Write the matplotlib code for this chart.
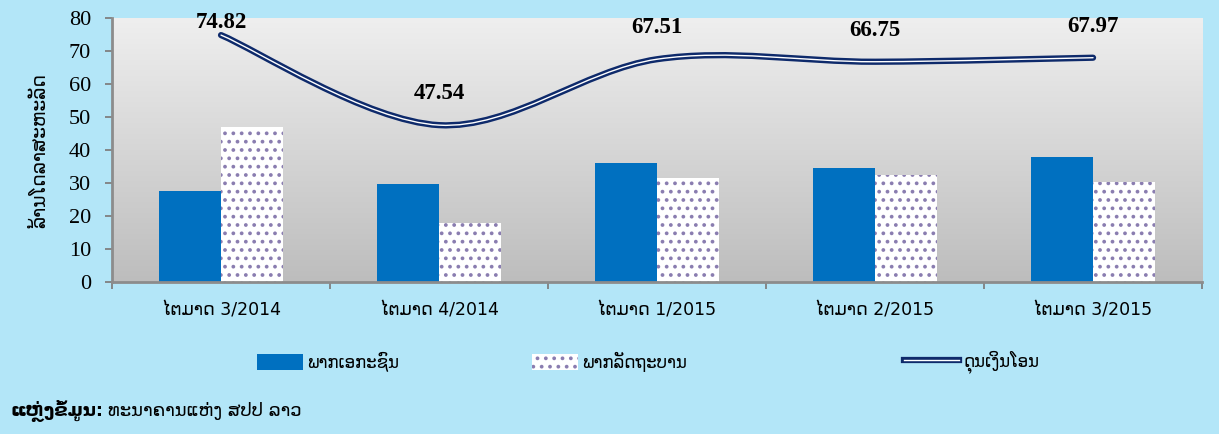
import numpy as np
import matplotlib
matplotlib.use("Agg")
import matplotlib.pyplot as plt
from matplotlib.path import Path
from matplotlib.patches import PathPatch, Patch
from matplotlib.lines import Line2D
from matplotlib.colors import LinearSegmentedColormap
import matplotlib.patheffects as pe

# Data
quarters = ["ໄຕມາດ 3/2014", "ໄຕມາດ 4/2014", "ໄຕມາດ 1/2015", "ໄຕມາດ 2/2015", "ໄຕມາດ 3/2015"]
private = [27.7, 29.8, 36.0, 34.4, 37.8]
government = [47.12, 17.74, 31.51, 32.35, 30.17]
balance = [74.82, 47.54, 67.51, 66.75, 67.97]

series_names = ["ພາກເອກະຊົນ", "ພາກລັດຖະບານ", "ດຸນເງິນໂອນ"]
ylabel = "ລ້ານໂດລາສະຫະລັດ"

bg = "#B3E6F8"
blue = "#0070C0"
navy = "#0E2A6B"
dots = "#8A7DB0"
lao = ["DejaVu Sans"]
serif = ["Liberation Serif", "DejaVu Serif"]

plt.rcParams["hatch.color"] = dots
plt.rcParams["hatch.linewidth"] = 1.5

fig = plt.figure(figsize=(12.19, 4.34), dpi=100, facecolor=bg)
ax = fig.add_axes([0.0919, 0.3502, 0.8942, 0.6083])
ax.set_facecolor("#D6D6D6")

# gradient plot area
grad = LinearSegmentedColormap.from_list("g", ["#BDBDBD", "#EFEFEF"])
ax.imshow(np.linspace(0, 1, 256).reshape(-1, 1), extent=[-0.5, 4.5, 0, 80],
          origin="lower", aspect="auto", cmap=grad, zorder=0)

x = np.arange(len(quarters))
w = 0.285
ax.bar(x - w / 2, private, w, color=blue, zorder=2)
ax.bar(x + w / 2, government, w, color="white", hatch="..", edgecolor=dots,
       linewidth=0, zorder=2)

# smoothed line (bezier through the points)
pts = np.column_stack([x, balance]).astype(float)
ext = np.vstack([pts[0], pts, pts[-1]])
verts = [tuple(pts[0])]
codes = [Path.MOVETO]
for i in range(len(pts) - 1):
    p0, p1, p2, p3 = ext[i], ext[i + 1], ext[i + 2], ext[i + 3]
    c1 = p1 + (p2 - p0) / 6
    c2 = p2 - (p3 - p1) / 6
    verts += [tuple(c1), tuple(c2), tuple(p2)]
    codes += [Path.CURVE4] * 3
line_fx = [pe.Stroke(linewidth=4.5, foreground=navy), pe.Normal()]
curve = PathPatch(Path(verts, codes), fill=False, edgecolor="white", lw=1.0,
                  zorder=3, path_effects=line_fx, capstyle="round")
ax.add_patch(curve)

for xi, v in zip(x, balance):
    ax.text(xi, min(v + 9.5, 78.5), f"{v:.2f}", ha="center", va="center",
            fontsize=16.5, fontweight="bold", family=serif, zorder=4)

ax.set_xlim(-0.5, 4.5)
ax.set_ylim(0, 80)
ax.set_yticks(range(0, 81, 10))
ax.set_yticklabels([str(v) for v in range(0, 81, 10)], family=serif, fontsize=16)
ax.set_xticks(np.arange(-0.5, 5, 1))
ax.set_xticklabels([])
ax.set_xticks(x, minor=True)
ax.set_xticklabels(quarters, minor=True, family=lao, fontsize=12.5)
ax.tick_params(axis="x", which="minor", length=0, pad=14)
ax.tick_params(axis="x", which="major", length=5, color="#808080", width=1.3)
ax.tick_params(axis="y", length=5, color="#808080", width=1.3, pad=10)
for s in ["top", "right"]:
    ax.spines[s].set_visible(False)
for s in ["left", "bottom"]:
    ax.spines[s].set_color("#8C8C8C")
    ax.spines[s].set_linewidth(2)
ax.set_ylabel(ylabel, family=lao, fontsize=13.5, labelpad=14)

handles = [
    Patch(facecolor=blue),
    Patch(facecolor="white", hatch="..", edgecolor=dots, linewidth=0),
    Line2D([], [], color="white", lw=1.0, path_effects=line_fx),
]
# one legend entry per column position, as in the original layout
starts = [257, 532, 904]
lengths = [2.75, 2.75, 3.3]
for h, name, x0, hl in zip(handles, series_names, starts, lengths):
    fig.legend([h], [name], loc="center left", bbox_to_anchor=(x0 / 1219, 0.166),
               frameon=False, prop={"family": lao, "size": 12},
               handlelength=hl, handleheight=1.1, handletextpad=0.25,
               borderpad=0, borderaxespad=0)

# source note: bold prefix, then the plain text right after it
src = fig.text(0.009, 0.052, "ແຫຼ່ງຂໍ້ມູນ:", family=lao, fontsize=13,
               fontweight="bold", va="center")
plt.annotate("ທະນາຄານແຫ່ງ ສປປ ລາວ", xy=(1, 0.5), xycoords=src,
             xytext=(3, 0), textcoords="offset points", va="center",
             family=lao, fontsize=13)

plt.savefig("out.png", dpi=100, facecolor=bg)
